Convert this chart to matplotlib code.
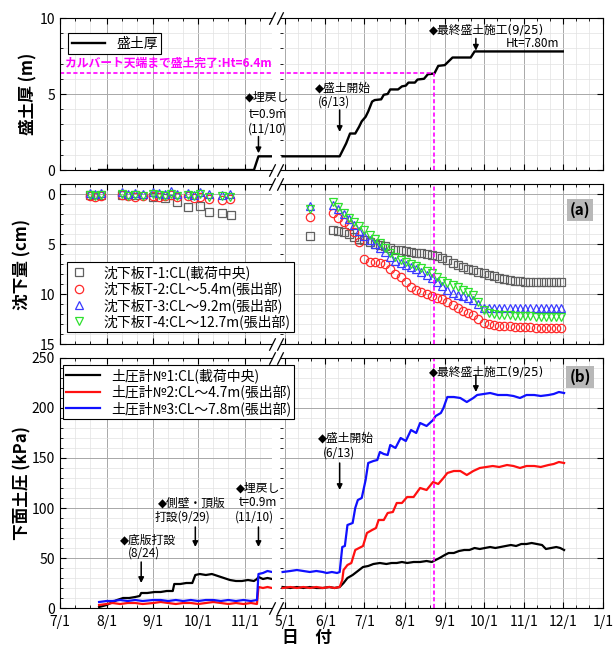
from datetime import datetime

import matplotlib

matplotlib.use("Agg")

import matplotlib.dates as mdates
import matplotlib.pyplot as plt
from matplotlib.ticker import FuncFormatter, MultipleLocator

plt.rcParams["font.family"] = ["Noto Sans CJK JP", "DejaVu Sans"]

YEAR1, YEAR2 = 2011, 2012
MAGENTA = "#ff00ff"
GRID_MAJOR = "#a8a8a8"
GRID_MINOR = "#e2e2e2"

# x ranges of the two pieces of the broken axis
LEFT_RANGE = ("7/1", "11/19")
RIGHT_START = "4/27"

# fill thickness (m)
FILL1_DATES = ["7/27", "11/7", "11/10", "11/19"]
FILL1 = [0.0, 0.0, 0.9, 0.9]
FILL2_DATES = ["4/29", "6/12", "6/17", "6/20", "6/24", "6/27", "6/29", "7/2", "7/4",
               "7/7", "7/9", "7/14", "7/16", "7/19", "7/21", "7/27", "7/30", "8/2",
               "8/4", "8/9", "8/11", "8/16", "8/19", "8/24", "8/27", "9/1", "9/4",
               "9/7", "9/21", "9/24", "12/1"]
FILL2 = [0.9, 0.9, 1.75, 2.4, 2.4, 2.85, 3.2, 3.5, 3.85, 4.5, 4.6, 4.65, 4.95, 5.0,
         5.3, 5.3, 5.5, 5.55, 5.75, 5.75, 5.95, 6.0, 6.3, 6.35, 6.85, 6.9, 7.15, 7.4,
         7.4, 7.8, 7.8]
CULVERT_HT = 6.4
CULVERT_DATE = "8/24"

# settlement (cm), first season
SET1_T1_DATES = ["7/21", "7/28", "8/11", "8/20", "9/1", "9/9", "9/17", "9/24", "10/2",
                 "10/8", "10/17", "10/23"]
SET1_T1 = [0.1, 0.1, 0.1, 0.1, 0.3, 0.4, 0.8, 1.3, 1.2, 1.8, 1.9, 2.1]
SET1_DATES = ["7/21", "7/24", "7/28", "8/11", "8/15", "8/20", "8/25", "9/1", "9/5",
              "9/9", "9/13", "9/17", "9/24", "9/28", "10/2", "10/8", "10/17", "10/22"]
SET1_T2 = [0.2, 0.3, 0.2, 0.1, 0.2, 0.3, 0.2, 0.2, 0.3, 0.2, 0.1, 0.3, 0.2, 0.4, 0.3,
           0.5, 0.6, 0.5]
SET1_T3 = [-0.1, 0.0, -0.1, -0.2, 0.0, -0.1, 0.0, -0.2, -0.1, 0.0, -0.3, 0.0, -0.1,
           0.1, -0.2, 0.0, 0.1, 0.0]
SET1_T4 = [0.1, 0.2, 0.1, 0.0, 0.2, 0.1, 0.2, 0.0, 0.1, 0.2, 0.0, 0.2, 0.1, 0.2, 0.0,
           0.3, 0.2, 0.3]

# settlement (cm), second season
SET2_DATES = ["5/20", "6/7", "6/11", "6/15", "6/19", "6/23", "6/27", "7/1", "7/5", "7/9",
              "7/13", "7/17", "7/21", "7/25", "7/29", "8/2", "8/6", "8/10", "8/14",
              "8/18", "8/22", "8/26", "8/30", "9/3", "9/7", "9/11", "9/15", "9/19",
              "9/23", "9/27", "10/1", "10/5", "10/9", "10/13", "10/17", "10/21",
              "10/25", "10/29", "11/2", "11/6", "11/10", "11/14", "11/18", "11/22",
              "11/26", "11/30"]
SET2_T1 = [4.2, 3.6, 3.7, 3.8, 4.0, 4.3, 4.5, 4.6, 4.8, 5.0, 5.1, 5.2, 5.4, 5.6, 5.6,
           5.7, 5.8, 5.9, 5.9, 6.0, 6.1, 6.2, 6.4, 6.6, 6.9, 7.1, 7.3, 7.5, 7.6, 7.8,
           7.9, 8.1, 8.2, 8.4, 8.5, 8.6, 8.7, 8.7, 8.8, 8.8, 8.8, 8.8, 8.8, 8.8, 8.8, 8.8]
SET2_T2 = [2.3, 1.9, 2.4, 2.8, 3.1, 3.8, 4.8, 6.5, 6.8, 6.8, 6.9, 7.0, 7.5, 8.0, 8.3,
           8.8, 9.3, 9.6, 9.8, 10.0, 10.2, 10.4, 10.5, 10.8, 11.1, 11.4, 11.7, 11.9,
           12.1, 12.5, 12.9, 13.0, 13.1, 13.2, 13.2, 13.2, 13.3, 13.3, 13.3, 13.3,
           13.4, 13.4, 13.4, 13.4, 13.4, 13.4]
SET2_T3 = [1.2, 1.1, 1.5, 2.0, 2.5, 3.1, 3.7, 4.2, 4.6, 5.0, 5.4, 5.8, 6.3, 6.7, 6.9,
           7.1, 7.3, 7.5, 7.8, 8.1, 8.4, 8.8, 9.2, 9.6, 9.9, 10.1, 10.2, 10.4, 10.6,
           11.0, 11.4, 11.4, 11.4, 11.4, 11.4, 11.4, 11.4, 11.4, 11.4, 11.4, 11.4,
           11.4, 11.4, 11.4, 11.4, 11.4]
SET2_T4 = [1.5, 0.8, 1.3, 1.9, 2.4, 2.8, 3.2, 3.6, 4.1, 4.5, 4.9, 5.4, 5.9, 6.3, 6.6,
           6.8, 7.0, 7.2, 7.4, 7.7, 7.9, 8.3, 8.7, 8.9, 9.1, 9.3, 9.6, 9.8, 10.1, 10.8,
           11.6, 11.9, 12.0, 12.1, 12.1, 12.1, 12.2, 12.2, 12.2, 12.2, 12.3, 12.3,
           12.3, 12.3, 12.3, 12.3]

# earth pressure (kPa), first season
P1_NO1_DATES = ["7/27", "8/1", "8/5", "8/8", "8/12", "8/16", "8/20", "8/23", "8/24",
                "8/28", "9/2", "9/6", "9/10", "9/14", "9/15", "9/19", "9/23", "9/27",
                "9/29", "10/2", "10/6", "10/10", "10/14", "10/18", "10/22", "10/26",
                "10/30", "11/3", "11/7", "11/9", "11/10", "11/13", "11/16", "11/19"]
P1_NO1 = [1, 3, 6, 8, 10, 10, 11, 12, 15, 15, 16, 16, 17, 17, 24, 24, 25, 25, 33, 34,
          33, 34, 32, 30, 28, 27, 27, 28, 27, 29, 31, 29, 30, 29]
P1_DATES = ["7/27", "8/1", "8/5", "8/10", "8/15", "8/20", "8/25", "9/1", "9/6", "9/11",
            "9/16", "9/21", "9/26", "10/1", "10/6", "10/11", "10/16", "10/21", "10/26",
            "10/31", "11/5", "11/9", "11/10", "11/13", "11/16", "11/19"]
P1_NO2 = [3, 4, 5, 4, 5, 5, 4, 5, 6, 5, 4, 5, 5, 4, 5, 6, 5, 4, 5, 4, 5, 4, 21, 20, 21, 20]
P1_NO3 = [6, 7, 7, 8, 7, 8, 7, 8, 8, 7, 8, 7, 8, 7, 8, 8, 7, 8, 7, 8, 7, 8, 34, 35, 37, 36]

# earth pressure (kPa), second season
P2_NO1_DATES = ["4/29", "5/5", "5/10", "5/15", "5/20", "5/25", "5/30", "6/4", "6/8",
                "6/12", "6/15", "6/18", "6/22", "6/26", "6/30", "7/4", "7/8", "7/13",
                "7/18", "7/22", "7/26", "7/30", "8/3", "8/8", "8/13", "8/18", "8/22",
                "8/25", "8/28", "9/1", "9/4", "9/8", "9/12", "9/16", "9/20", "9/24",
                "9/28", "10/2", "10/6", "10/10", "10/14", "10/18", "10/22", "10/26",
                "10/30", "11/3", "11/7", "11/11", "11/15", "11/18", "11/22", "11/26",
                "11/29", "12/2"]
P2_NO1 = [21, 20, 21, 20, 21, 20, 20, 21, 20, 21, 25, 30, 33, 37, 41, 42, 44, 45, 44,
          45, 45, 46, 45, 46, 46, 47, 46, 48, 50, 53, 55, 55, 57, 58, 58, 60, 59, 60,
          61, 60, 61, 62, 63, 62, 64, 64, 65, 64, 63, 59, 60, 61, 60, 58]
P2_NO2_DATES = ["4/29", "5/5", "5/10", "5/15", "5/20", "5/25", "5/30", "6/4", "6/8",
                "6/12", "6/14", "6/15", "6/18", "6/21", "6/24", "6/27", "6/30", "7/3",
                "7/7", "7/10", "7/12", "7/16", "7/19", "7/23", "7/26", "7/30", "8/3",
                "8/8", "8/13", "8/18", "8/23", "8/27", "8/31", "9/3", "9/8", "9/13",
                "9/18", "9/23", "9/28", "10/3", "10/8", "10/13", "10/19", "10/24",
                "10/29", "11/3", "11/9", "11/14", "11/20", "11/24", "11/28", "12/2"]
P2_NO2 = [20, 21, 20, 21, 20, 21, 20, 21, 20, 21, 28, 38, 43, 45, 58, 60, 62, 75, 78,
          80, 88, 88, 95, 96, 105, 105, 111, 111, 120, 118, 126, 124, 130, 135, 137,
          137, 133, 137, 140, 141, 142, 141, 143, 142, 140, 142, 142, 141, 143, 144,
          146, 145]
P2_NO3_DATES = ["4/29", "5/5", "5/10", "5/15", "5/20", "5/25", "5/30", "6/2", "6/6",
                "6/10", "6/12", "6/14", "6/16", "6/18", "6/22", "6/24", "6/26", "6/29",
                "7/2", "7/4", "7/8", "7/11", "7/13", "7/16", "7/19", "7/21", "7/25",
                "7/29", "8/2", "8/6", "8/10", "8/13", "8/18", "8/23", "8/25", "8/29",
                "8/31", "9/3", "9/8", "9/13", "9/18", "9/23", "9/26", "10/1", "10/6",
                "10/12", "10/19", "10/24", "10/29", "11/3", "11/9", "11/14", "11/20",
                "11/24", "11/28", "12/2"]
P2_NO3 = [36, 37, 38, 37, 36, 37, 36, 35, 36, 35, 36, 61, 62, 83, 85, 100, 108, 110,
          128, 145, 147, 148, 156, 154, 153, 163, 160, 170, 167, 178, 175, 185, 182,
          188, 192, 195, 200, 211, 211, 210, 206, 210, 213, 214, 215, 213, 213, 212,
          210, 213, 213, 212, 213, 214, 216, 215]

SETTLEMENT_LABELS = ["沈下板T-1:CL(載荷中央)", "沈下板T-2:CL～5.4m(張出部)",
                     "沈下板T-3:CL～9.2m(張出部)", "沈下板T-4:CL～12.7m(張出部)"]
PRESSURE_LABELS = ["土圧計№1:CL(載荷中央)", "土圧計№2:CL～4.7m(張出部)",
                   "土圧計№3:CL～7.8m(張出部)"]

SET_STYLES = [("s", "#606060"), ("o", "#ff2a2a"), ("^", "#3a3aff"), ("v", "#2ee02e")]
P_COLORS = ["#000000", "#ff1010", "#1010ff"]


def on(year, labels):
    out = []
    for s in labels:
        m, d = s.split("/")
        out.append(datetime(year, int(m), int(d)))
    return out


def one(year, label):
    return on(year, [label])[0]


def month_day(value, _pos):
    d = mdates.num2date(value)
    return f"{d.month}/{d.day}"


fig = plt.figure(figsize=(6.14, 6.48), dpi=100, facecolor="white")


def px_axes(x0, x1, y0, y1, **kw):
    return fig.add_axes([x0 / 614, 1 - y1 / 648, (x1 - x0) / 614, (y1 - y0) / 648], **kw)


rows = [(18, 170), (184, 344), (358, 608)]
pairs = []
for top, bottom in rows:
    left = px_axes(60, 272, top, bottom)
    right = px_axes(280, 603, top, bottom, sharey=left)
    left.set_zorder(3)
    right.set_zorder(2)
    left.patch.set_alpha(0)
    pairs.append((left, right))

for i, (left, right) in enumerate(pairs):
    left.set_xlim(one(YEAR1, LEFT_RANGE[0]), one(YEAR1, LEFT_RANGE[1]))
    right.set_xlim(one(YEAR2, RIGHT_START), datetime(YEAR2 + 1, 1, 1))
    for ax, side in ((left, "left"), (right, "right")):
        ax.xaxis.set_major_locator(mdates.MonthLocator())
        ax.xaxis.set_minor_locator(mdates.DayLocator(bymonthday=[11, 21]))
        ax.xaxis.set_major_formatter(FuncFormatter(month_day))
        ax.tick_params(which="both", direction="in", top=True, labelsize=10,
                       colors="#000000")
        ax.tick_params(which="major", length=4, width=0.8)
        ax.tick_params(which="minor", length=2, width=0.6)
        ax.tick_params(axis="x", pad=5)
        if side == "left":
            ax.spines["right"].set_visible(False)
            ax.tick_params(right=False)
        else:
            ax.spines["left"].set_visible(False)
            ax.tick_params(left=False, labelleft=False, right=True)
        for spine in ax.spines.values():
            spine.set_linewidth(0.8)
        ax.grid(which="major", color=GRID_MAJOR, linewidth=0.7)
        ax.grid(which="minor", color=GRID_MINOR, linewidth=0.5)
        ax.set_axisbelow(True)
        if i < 2:
            ax.tick_params(labelbottom=False)
    # break marks
    for ax, x in ((left, 1), (right, 0)):
        ax.plot([x, x], [0, 1], transform=ax.transAxes, marker=[(-0.5, -1), (0.5, 1)],
                markersize=9, linestyle="none", color="k", mec="k", mew=0.9,
                clip_on=False, zorder=10)

(a1, b1), (a2, b2), (a3, b3) = pairs

# ---- fill thickness
a1.set_ylim(0, 10)
a1.set_yticks([0, 5, 10])
a1.yaxis.set_minor_locator(MultipleLocator(1))
a1.plot(on(YEAR1, FILL1_DATES), FILL1, color="k", lw=1.7, label="盛土厚")
b1.plot(on(YEAR2, FILL2_DATES), FILL2, color="k", lw=1.7)
dash = dict(color=MAGENTA, lw=1.2, linestyle=(0, (2.5, 1.5)))
a1.axhline(CULVERT_HT, **dash)
b1.hlines(CULVERT_HT, one(YEAR2, RIGHT_START), one(YEAR2, CULVERT_DATE), **dash)
b1.vlines(one(YEAR2, CULVERT_DATE), 0, CULVERT_HT, **dash)
a1.text(one(YEAR1, "7/4"), 7.05, "カルバート天端まで盛土完了:Ht=6.4m", color=MAGENTA,
        fontsize=8.5, fontweight="bold", ha="left", va="center")
leg = a1.legend(loc="upper left", bbox_to_anchor=(0.038, 0.90), borderaxespad=0,
                fontsize=10, handlelength=2.4, fancybox=False, edgecolor="k",
                framealpha=1, borderpad=0.25)
leg.get_frame().set_linewidth(0.8)

# texts with the diamond take it from DejaVu, which draws it smaller
note = dict(fontsize=8.5, color="k", va="center")
mark = dict(note, family=["DejaVu Sans", "Noto Sans CJK JP"])
arrow = dict(arrowstyle="-|>", color="k", lw=1.1, mutation_scale=8, shrinkA=0, shrinkB=0)

a1.text(one(YEAR1, "11/16"), 4.8, "◆埋戻し", ha="center", **mark)
a1.text(one(YEAR1, "11/16"), 3.65, "t=0.9m", ha="center", **note)
a1.text(one(YEAR1, "11/16"), 2.7, "(11/10)", ha="center", **note)
a1.annotate("", xy=(one(YEAR1, "11/10"), 1.1), xytext=(one(YEAR1, "11/10"), 2.2),
            arrowprops=arrow)
b1.text(one(YEAR2, "5/24"), 5.4, "◆盛土開始", ha="left", **mark)
b1.text(one(YEAR2, "5/26"), 4.45, "(6/13)", ha="left", **note)
b1.annotate("", xy=(one(YEAR2, "6/12"), 2.5), xytext=(one(YEAR2, "6/12"), 3.95),
            arrowprops=arrow)
b1.text(one(YEAR2, "10/3"), 9.2, "◆最終盛土施工(9/25)", ha="center", **mark)
b1.text(one(YEAR2, "11/28"), 8.35, "Ht=7.80m", ha="right", **note)
b1.annotate("", xy=(one(YEAR2, "9/25"), 7.85), xytext=(one(YEAR2, "9/25"), 8.65),
            arrowprops=arrow)

# ---- settlement
a2.set_ylim(15, -1)
a2.set_yticks([0, 5, 10, 15])
a2.yaxis.set_minor_locator(MultipleLocator(1))
first = [(SET1_T1_DATES, SET1_T1), (SET1_DATES, SET1_T2), (SET1_DATES, SET1_T3),
         (SET1_DATES, SET1_T4)]
second = [SET2_T1, SET2_T2, SET2_T3, SET2_T4]
for (dates1, vals1), vals2, (mk, col), label in zip(first, second, SET_STYLES,
                                                     SETTLEMENT_LABELS):
    style = dict(marker=mk, markersize=6, mfc="none", mec=col, mew=0.9,
                 linestyle="none")
    a2.plot(on(YEAR1, dates1), vals1, label=label, **style)
    b2.plot(on(YEAR2, SET2_DATES), vals2, **style)
b2.axvline(one(YEAR2, CULVERT_DATE), **dash)
leg = a2.legend(loc="upper left", bbox_to_anchor=(0.033, 0.5125), borderaxespad=0,
                fontsize=10, handlelength=1.2, handletextpad=1.2, fancybox=False,
                edgecolor="k", framealpha=1, borderpad=0.25, labelspacing=0.1)
leg.get_frame().set_linewidth(0.8)
b2.text(0.929, 0.8375, "(a)", transform=b2.transAxes, fontsize=11, fontweight="bold",
        ha="center", va="center",
        bbox=dict(boxstyle="square,pad=0.2", facecolor="#b8b8b8", edgecolor="none"))

# ---- earth pressure
a3.set_ylim(0, 250)
a3.set_yticks(range(0, 251, 50))
a3.yaxis.set_minor_locator(MultipleLocator(10))
first_p = [(P1_NO1_DATES, P1_NO1), (P1_DATES, P1_NO2), (P1_DATES, P1_NO3)]
second_p = [(P2_NO1_DATES, P2_NO1), (P2_NO2_DATES, P2_NO2), (P2_NO3_DATES, P2_NO3)]
for (d1, v1), (d2, v2), col, label in zip(first_p, second_p, P_COLORS, PRESSURE_LABELS):
    a3.plot(on(YEAR1, d1), v1, color=col, lw=1.6, label=label)
    b3.plot(on(YEAR2, d2), v2, color=col, lw=1.6)
b3.axvline(one(YEAR2, CULVERT_DATE), **dash)
leg = a3.legend(loc="upper left", bbox_to_anchor=(0.014, 0.972), borderaxespad=0,
                fontsize=10, handlelength=2.4, fancybox=False, edgecolor="k",
                framealpha=1, borderpad=0.25, labelspacing=0.1)
leg.get_frame().set_linewidth(0.8)
b3.text(0.929, 0.924, "(b)", transform=b3.transAxes, fontsize=11, fontweight="bold",
        ha="center", va="center",
        bbox=dict(boxstyle="square,pad=0.2", facecolor="#b8b8b8", edgecolor="none"))

a3.text(one(YEAR1, "8/10"), 68, "◆底版打設", ha="left", **mark)
a3.text(one(YEAR1, "8/15"), 55, "(8/24)", ha="left", **note)
a3.annotate("", xy=(one(YEAR1, "8/24"), 25), xytext=(one(YEAR1, "8/24"), 46),
            arrowprops=arrow)
a3.text(one(YEAR1, "9/4"), 105, "◆側壁・頂版", ha="left", **mark)
a3.text(one(YEAR1, "9/2"), 91, "打設(9/29)", ha="left", **note)
a3.annotate("", xy=(one(YEAR1, "9/29"), 61), xytext=(one(YEAR1, "9/29"), 81),
            arrowprops=arrow)
a3.text(one(YEAR1, "10/26"), 120, "◆埋戻し", ha="left", **mark)
a3.text(one(YEAR1, "10/28"), 105, "t=0.9m", ha="left", **note)
a3.text(one(YEAR1, "10/25"), 91, "(11/10)", ha="left", **note)
a3.annotate("", xy=(one(YEAR1, "11/10"), 61), xytext=(one(YEAR1, "11/10"), 81),
            arrowprops=arrow)
b3.text(one(YEAR2, "5/26"), 170, "◆盛土開始", ha="left", **mark)
b3.text(one(YEAR2, "5/30"), 155, "(6/13)", ha="left", **note)
b3.annotate("", xy=(one(YEAR2, "6/12"), 118), xytext=(one(YEAR2, "6/12"), 145),
            arrowprops=arrow)
b3.text(one(YEAR2, "10/3"), 236, "◆最終盛土施工(9/25)", ha="center", **mark)
b3.annotate("", xy=(one(YEAR2, "9/25"), 216), xytext=(one(YEAR2, "9/25"), 233),
            arrowprops=arrow)

# axis titles
label = dict(fontsize=12, fontweight="bold", rotation=90, ha="center", va="center")
fig.text(28 / 614, 1 - 94 / 648, "盛土厚 (m)", **label)
fig.text(22 / 614, 1 - 264 / 648, "沈下量 (cm)", **label)
fig.text(22 / 614, 1 - 483 / 648, "下面土圧 (kPa)", **label)
fig.text(307 / 614, 1 - 638 / 648, "日　付", fontsize=12, fontweight="bold",
         ha="center", va="center")

fig.savefig("out.png", dpi=100, facecolor="white")
